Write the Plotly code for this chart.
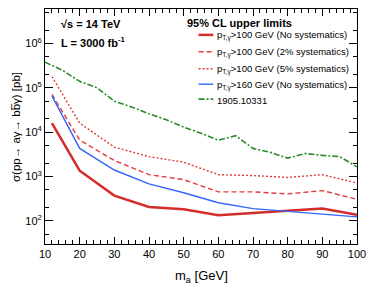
import plotly.graph_objects as go

# ---------------- data ----------------
mass = [12, 20, 30, 40, 50, 60, 70, 80, 90, 100]
red_nosys = [1.6e4, 1.35e3, 370, 205, 183, 134, 150, 166, 190, 137]
red_2pct = [7.1e4, 6.6e3, 2.3e3, 1.1e3, 850, 450, 450, 405, 480, 305]
red_5pct = [1.8e5, 1.6e4, 4.6e3, 2.8e3, 2.1e3, 1.1e3, 1.05e3, 950, 1.1e3, 710]
blue_160 = [6.6e4, 4.3e3, 1.4e3, 680, 430, 256, 188, 162, 141, 123]

mass_ref = [10, 15, 20, 25, 30, 35, 40, 45, 50, 55, 60, 65, 70, 75, 80, 85, 90, 95, 100]
ref_1905 = [3.8e5, 2.5e5, 1.4e5, 1.0e5, 5.0e4, 3.7e4, 2.6e4, 1.9e4, 1.3e4, 9.5e3,
            6.6e3, 8.3e3, 4.3e3, 3.5e3, 2.6e3, 3.3e3, 3.0e3, 2.8e3, 1.65e3]

names = [
    "p<sub>T,γ</sub>>100 GeV (No systematics)",
    "p<sub>T,γ</sub>>100 GeV (2% systematics)",
    "p<sub>T,γ</sub>>100 GeV (5% systematics)",
    "p<sub>T,γ</sub>>160 GeV (No systematics)",
    "1905.10331",
]

x_ticks = [10, 20, 30, 40, 50, 60, 70, 80, 90, 100]
y_tickvals = [1e2, 1e3, 1e4, 1e5, 1e6]
y_ticktext = ["10<sup>2</sup>", "10<sup>3</sup>", "10<sup>4</sup>", "10<sup>5</sup>", "10<sup>6</sup>"]

FONT = "Liberation Sans, Arial, Helvetica, sans-serif"

styles = [
    dict(color="#d42b2b", width=2.5),
    dict(color="#e23c3c", width=1.4, dash="5px,3px"),
    dict(color="#e23c3c", width=1.4, dash="2px,2px"),
    dict(color="#3366ff", width=1.4),
    dict(color="#2a8a2a", width=1.6, dash="6px,2px,2px,2px"),
]
series = [(mass, red_nosys), (mass, red_2pct), (mass, red_5pct), (mass, blue_160), (mass_ref, ref_1905)]

fig = go.Figure()
for (xs, ys), nm, st in zip(series, names, styles):
    fig.add_trace(go.Scatter(x=xs, y=ys, mode="lines", name=nm, line=st, showlegend=False))

axis_common = dict(showline=True, linecolor="black", linewidth=1, mirror="allticks",
                   ticks="inside", tickcolor="black", showgrid=False, zeroline=False,
                   tickfont=dict(family=FONT, size=11, color="black"))

fig.update_xaxes(range=[10, 100], tickvals=x_ticks, ticklen=7,
                 minor=dict(ticks="inside", dtick=2, ticklen=4, tickcolor="black", showgrid=False),
                 **axis_common)
fig.update_yaxes(type="log", range=[1.477, 6.778], tickvals=y_tickvals, ticktext=y_ticktext,
                 ticklen=8,
                 minor=dict(ticks="inside", ticklen=4, tickcolor="black", showgrid=False),
                 **axis_common)

# ----- manual legend (paper coordinates, converted from pixel layout) -----
L, R, T, B = 45, 362, 8, 244
W, H = R - L, B - T


def px(x):
    return (x - L) / W


def py(y):
    return (B - y) / H


annotations = [
    dict(text="<b>√s = 14 TeV</b>", xref="paper", yref="paper", x=px(59), y=py(23),
         xanchor="left", yanchor="middle", showarrow=False, font=dict(family=FONT, size=11)),
    dict(text="<b>L = 3000 fb<sup>-1</sup></b>", xref="paper", yref="paper", x=px(59), y=py(41),
         xanchor="left", yanchor="middle", showarrow=False, font=dict(family=FONT, size=11)),
    dict(text="m<sub>a</sub> [GeV]", xref="paper", yref="paper", x=0.5, y=py(277),
         xanchor="center", yanchor="middle", showarrow=False, font=dict(family=FONT, size=13)),
    dict(text="σ(pp→ aγ→ bb\u0305γ) [pb]", xref="paper", yref="paper", x=px(15), y=py(126),
         xanchor="center", yanchor="middle", textangle=-90, showarrow=False,
         font=dict(family=FONT, size=11.5)),
    dict(text="<b>95% CL upper limits</b>", xref="paper", yref="paper", x=px(187), y=py(22),
         xanchor="left", yanchor="middle", showarrow=False, font=dict(family=FONT, size=11)),
]
shapes = []
leg_y = [34, 51, 68, 83.5, 98.5]
for nm, st, yy in zip(names, styles, leg_y):
    shapes.append(dict(type="line", xref="paper", yref="paper", x0=px(201), x1=px(216),
                       y0=py(yy), y1=py(yy), line=st))
    annotations.append(dict(text=nm, xref="paper", yref="paper", x=px(218), y=py(yy + 1),
                            xanchor="left", yanchor="middle", showarrow=False,
                            font=dict(family=FONT, size=9.5)))

fig.update_layout(
    width=374, height=288,
    margin=dict(l=L, r=374 - R, t=T, b=288 - B),
    paper_bgcolor="white", plot_bgcolor="white",
    font=dict(family=FONT, color="black"),
    showlegend=False,
    annotations=annotations,
    shapes=shapes,
)

fig.write_html("out.html", config={"displayModeBar": False},
               post_script="document.body.style.margin='0';document.body.style.overflow='hidden';")
